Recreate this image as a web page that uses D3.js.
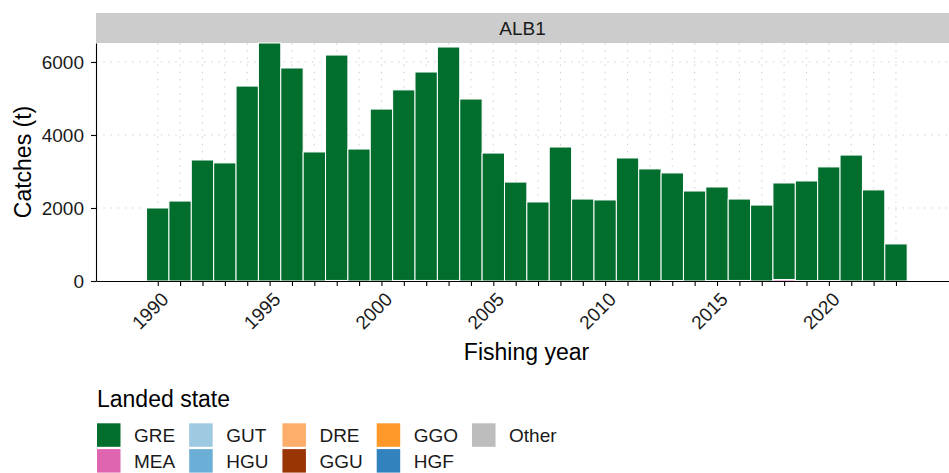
<!DOCTYPE html>
<html>
<head>
<meta charset="utf-8">
<script src="https://cdn.jsdelivr.net/npm/d3@7"></script>
<style>
  body { margin: 0; background: #fff; }
  text { font-family: "Liberation Sans", Arial, sans-serif; }
</style>
</head>
<body>
<svg id="chart" width="949" height="473"></svg>
<script>
// catches by landed state, ALB1
const years = [1990, 1991, 1992, 1993, 1994, 1995, 1996, 1997, 1998, 1999,
               2000, 2001, 2002, 2003, 2004, 2005, 2006, 2007, 2008, 2009,
               2010, 2011, 2012, 2013, 2014, 2015, 2016, 2017, 2018, 2019,
               2020, 2021, 2022, 2023];
const GRE = [2000, 2190, 3315, 3235, 5340, 6520, 5835, 3535, 6175, 3615,
             4710, 5220, 5710, 6395, 4985, 3505, 2710, 2165, 3670, 2245,
             2220, 3370, 3070, 2950, 2465, 2565, 2230, 2080, 2645, 2730,
             3115, 3450, 2495, 1015];
const MEA = [0, 0, 0, 0, 0, 0, 0, 0, 0, 0,
             0, 0, 0, 0, 0, 0, 0, 0, 0, 0,
             0, 0, 0, 10, 0, 10, 0, 0, 40, 10,
             10, 0, 0, 0];
const GUT = [0, 0, 0, 0, 0, 0, 0, 0, 0, 0, 0, 0, 0, 0, 0, 0, 0,
             0, 0, 0, 0, 0, 0, 0, 0, 0, 0, 0, 0, 0, 0, 0, 0, 0];
const HGU = [0, 0, 0, 0, 0, 0, 0, 0, 0, 0, 0, 0, 0, 0, 0, 0, 0,
             0, 0, 0, 0, 0, 0, 0, 0, 0, 0, 0, 0, 0, 0, 0, 0, 0];
const DRE = [0, 0, 0, 0, 0, 0, 0, 0, 0, 0, 0, 0, 0, 0, 0, 0, 0,
             0, 0, 0, 0, 0, 0, 0, 0, 0, 0, 0, 0, 0, 0, 0, 0, 0];
const GGU = [0, 0, 0, 0, 0, 0, 0, 0, 15, 0,
             0, 15, 15, 15, 0, 0, 0, 0, 0, 0,
             0, 0, 0, 0, 0, 0, 15, 0, 0, 0,
             0, 0, 0, 0];
const GGO = [0, 0, 0, 0, 0, 0, 0, 0, 0, 0, 0, 0, 0, 0, 0, 0, 0,
             0, 0, 0, 0, 0, 0, 0, 0, 0, 0, 0, 0, 0, 0, 0, 0, 0];
const HGF = [0, 0, 0, 0, 0, 0, 0, 0, 0, 0, 0, 0, 0, 0, 0, 0, 0,
             0, 0, 0, 0, 0, 0, 0, 0, 0, 0, 0, 0, 0, 0, 0, 0, 0];
const Other = [0, 0, 0, 0, 0, 0, 0, 0, 0, 0, 0, 0, 0, 0, 0, 0, 0,
               0, 0, 0, 0, 0, 0, 0, 0, 0, 0, 0, 0, 0, 0, 0, 0, 0];

const states = ["GRE", "MEA", "GUT", "HGU", "DRE", "GGU", "GGO", "HGF", "Other"];
const stateColours = ["#016e2e", "#df65b0", "#9ecae1", "#6baed6", "#fdae6b",
                      "#993404", "#fe9929", "#3182bd", "#bdbdbd"];
const yTicks = [0, 2000, 4000, 6000];
const xLabelYears = [1990, 1995, 2000, 2005, 2010, 2015, 2020];
const stockName = "ALB1";

const series = {GRE, MEA, GUT, HGU, DRE, GGU, GGO, HGF, Other};
let rows = years.map((yr, i) => {
    let r = {year: yr};
    states.forEach(s => r[s] = series[s][i]);
    return r;
});

let svg = d3.select('#chart');
let panel = {left: 96, right: 949, top: 43, bottom: 281};
let strip = {top: 13, height: 30};

let x = d3.scaleLinear().domain([1987.24, 2025.37]).range([panel.left, panel.right]);
let y = d3.scaleLinear().domain([0, 6520]).range([panel.bottom, panel.top]);
let colour = d3.scaleOrdinal().domain(states).range(stateColours);

// strip
svg.append("rect")
    .attr("x", panel.left).attr("y", strip.top)
    .attr("width", panel.right - panel.left).attr("height", strip.height)
    .attr("fill", "#cccccc");
svg.append("text")
    .attr("x", (panel.left + panel.right) / 2)
    .attr("y", strip.top + strip.height / 2)
    .attr("dy", "0.35em")
    .attr("text-anchor", "middle")
    .attr("font-size", 19)
    .attr("fill", "#1a1a1a")
    .text(stockName);

// grid
let grid = svg.append("g")
    .attr("stroke", "#d4d4d4")
    .attr("stroke-width", 1.1)
    .attr("stroke-dasharray", "1.6 5.6");
grid.selectAll(".gx").data(years).join("line")
    .attr("x1", d => x(d)).attr("x2", d => x(d))
    .attr("y1", panel.top).attr("y2", panel.bottom);
grid.selectAll(".gy").data(yTicks.filter(d => d > 0)).join("line")
    .attr("x1", panel.left).attr("x2", panel.right)
    .attr("y1", d => y(d)).attr("y2", d => y(d));

// stacked bars, first level on top
let stacked = d3.stack().keys(states.slice().reverse())(rows);
svg.append("g")
    .selectAll("g")
    .data(stacked)
    .join("g")
        .attr("fill", d => colour(d.key))
    .selectAll("rect")
    .data(d => d)
    .join("rect")
        .attr("x", d => x(d.data.year - 0.5))
        .attr("width", d => x(d.data.year + 0.5) - x(d.data.year - 0.5))
        .attr("y", d => y(d[1]))
        .attr("height", d => y(d[0]) - y(d[1]))
        .attr("stroke", "white")
        .attr("stroke-width", 1);

// axes
let yAxis = svg.append("g")
    .attr("transform", `translate(${panel.left},0)`)
    .call(d3.axisLeft(y).tickValues(yTicks).tickFormat(d3.format("d"))
        .tickSize(5).tickPadding(7).tickSizeOuter(0));
let xAxis = svg.append("g")
    .attr("transform", `translate(0,${panel.bottom})`)
    .call(d3.axisBottom(x).tickValues(years).tickSize(5).tickSizeOuter(0)
        .tickFormat(d => xLabelYears.includes(d) ? d : ""));
[yAxis, xAxis].forEach(a => {
    a.select(".domain").attr("stroke", "black").attr("stroke-width", 1.1);
    a.selectAll(".tick line").attr("stroke", "black").attr("stroke-width", 1.1);
    a.selectAll("text")
        .attr("font-size", 19)
        .attr("font-family", "Liberation Sans, Arial, sans-serif")
        .attr("fill", "#1a1a1a");
});
xAxis.selectAll("text")
    .attr("text-anchor", "end")
    .attr("x", 0).attr("y", 0)
    .attr("dy", "0.71em")
    .attr("transform", "translate(2,10) rotate(-45)");

// axis titles
svg.append("text")
    .attr("transform", `translate(23,${(panel.top + panel.bottom) / 2}) rotate(-90)`)
    .attr("dy", "0.35em")
    .attr("text-anchor", "middle")
    .attr("font-size", 23)
    .text("Catches (t)");
svg.append("text")
    .attr("x", (panel.left + panel.right) / 2 + 4)
    .attr("y", 360)
    .attr("text-anchor", "middle")
    .attr("font-size", 23)
    .text("Fishing year");

// legend
let legend = svg.append("g").attr("transform", "translate(97,0)");
legend.append("text")
    .attr("x", 0).attr("y", 407)
    .attr("font-size", 23)
    .text("Landed state");

let keySize = 23.5, rowGap = 2.3, labelGap = 13.5, colGap = 14;
let nRows = 2;
let colX = 0;
let nCols = Math.ceil(states.length / nRows);
for (let c = 0; c < nCols; c++) {
    let items = states.slice(c * nRows, c * nRows + nRows);
    let maxW = 0;
    items.forEach((s, r) => {
        let top = 423.3 + r * (keySize + rowGap);
        legend.append("rect")
            .attr("x", colX).attr("y", top)
            .attr("width", keySize).attr("height", keySize)
            .attr("fill", colour(s));
        let t = legend.append("text")
            .attr("x", colX + keySize + labelGap)
            .attr("y", top + keySize / 2)
            .attr("dy", "0.36em")
            .attr("font-size", 19)
            .attr("fill", "#1a1a1a")
            .text(s);
        maxW = Math.max(maxW, t.node().getComputedTextLength());
    });
    colX += keySize + labelGap + maxW + colGap;
}
</script>
</body>
</html>
